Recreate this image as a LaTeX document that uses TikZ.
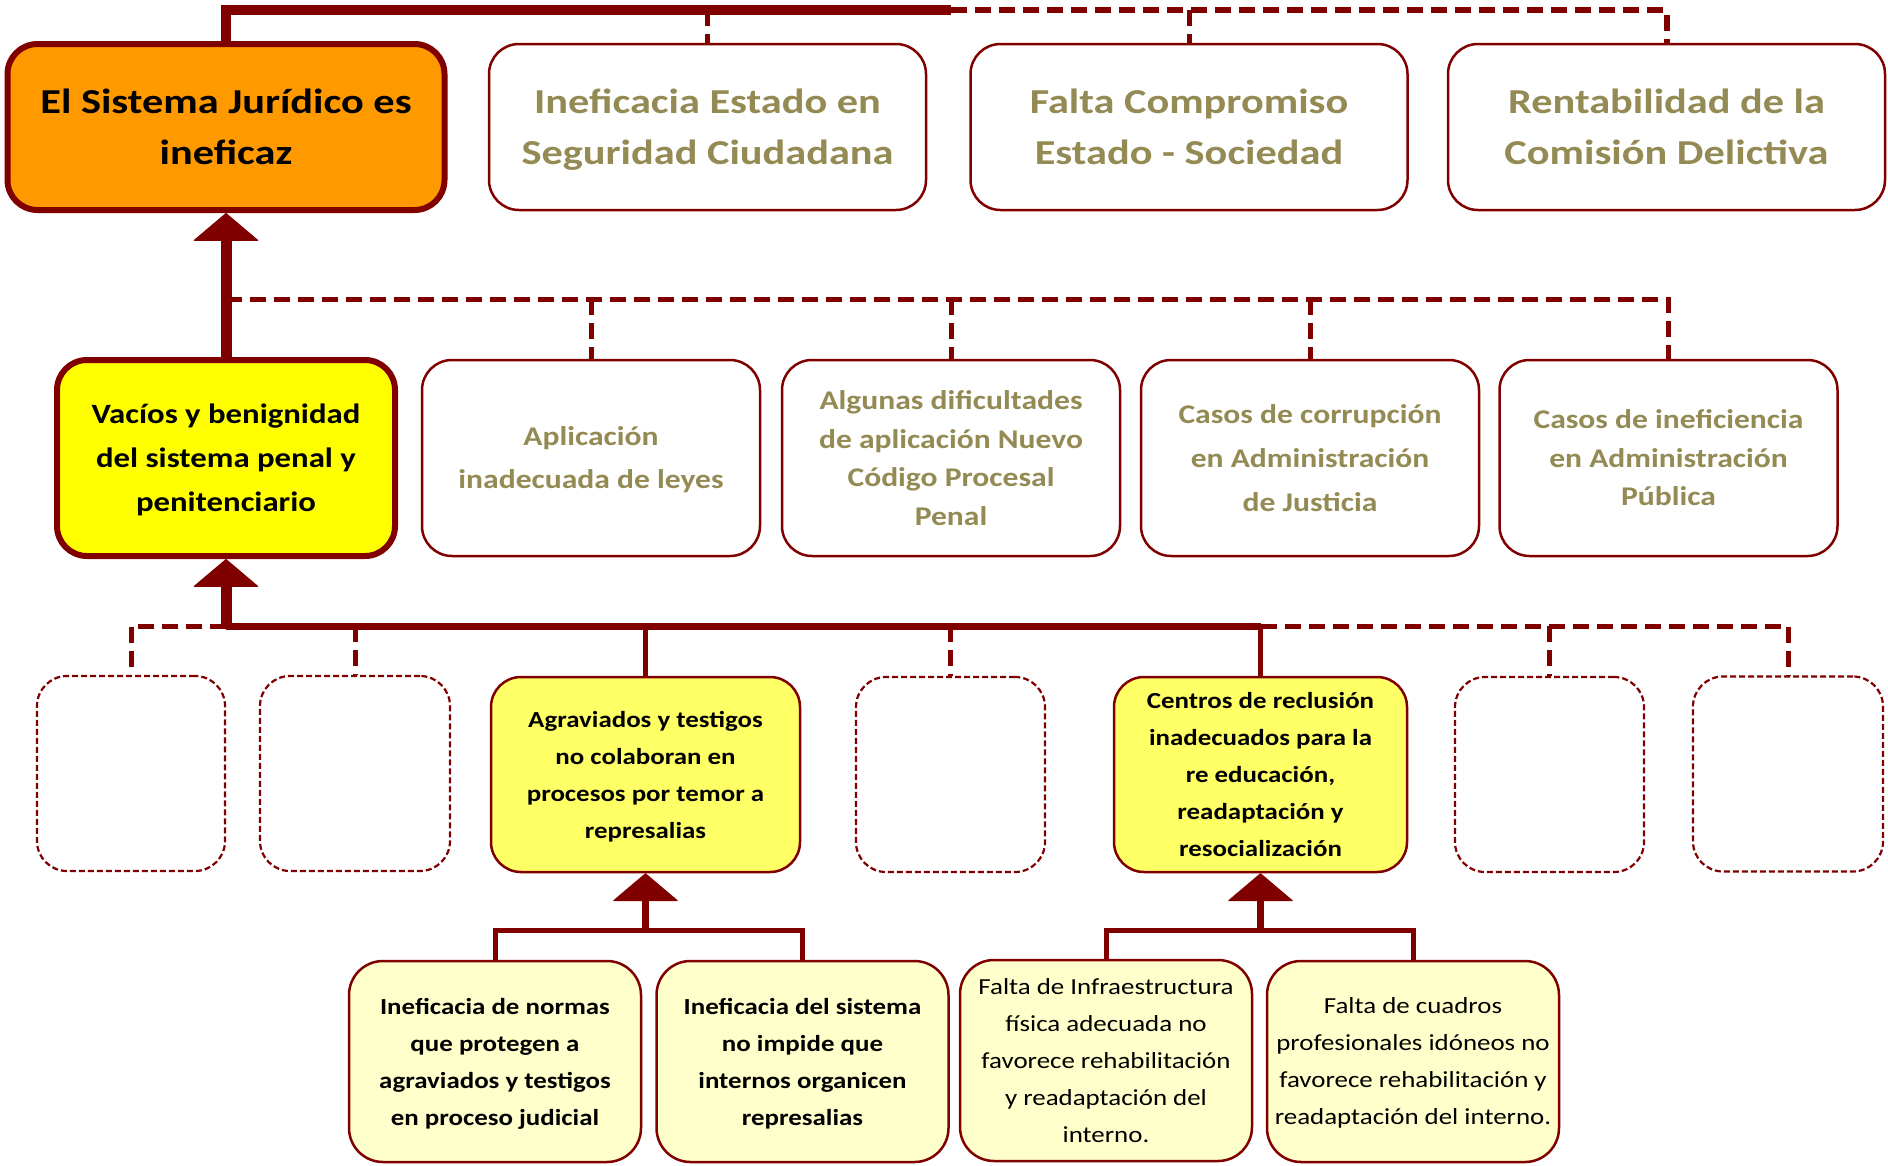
\documentclass[tikz,border=0pt]{standalone}
\usepackage{fontspec}
\setmainfont{Carlito}[FakeStretch=1.17]
\newfontfamily\topfont{Carlito}[FakeStretch=1.21]
\usetikzlibrary{arrows.meta}
\definecolor{dred}{RGB}{128,0,0}
\definecolor{olivet}{RGB}{148,138,84}
\definecolor{orangef}{RGB}{255,153,0}
\definecolor{yelf}{RGB}{255,255,0}
\definecolor{lyelf}{RGB}{255,255,102}
\definecolor{creamf}{RGB}{255,255,204}
\tikzset{
  box/.style={draw=dred, rounded corners=30pt, align=center, inner sep=0pt},
  topbox/.style={box, text depth=-8pt, line width=2.5pt, fill=white, minimum width=437pt, minimum height=166pt, text=olivet, font=\topfont\fontsize{35}{51}\selectfont\bfseries},
  midbox/.style={box, text depth=-8pt, line width=2.5pt, fill=white, minimum width=338pt, minimum height=196pt, text=olivet, font=\fontsize{27}{43}\selectfont\bfseries},
  emptybox/.style={box, line width=2.2pt, dash pattern=on 6pt off 3pt, fill=white, minimum height=195pt},
  lowbox/.style={box, text depth=-9pt, line width=2.5pt, fill=lyelf, minimum height=195pt, font=\fontsize{23}{37}\selectfont\bfseries},
  botbox/.style={box, text depth=-9pt, rounded corners=34pt, line width=2.5pt, fill=creamf, minimum width=292pt, minimum height=201pt, font=\fontsize{23}{37}\selectfont},
  shaft/.style={draw=dred, line width=11pt},
  bus/.style={draw=dred, line width=7pt},
  thinc/.style={draw=dred, line width=5pt},
  dashc/.style={draw=dred, line width=5pt, dash pattern=on 16pt off 8pt},
  uptip/.style={-{Triangle[width=66pt,length=28pt,line width=1pt,round]}},
}
\begin{document}
\begin{tikzpicture}[x=1pt,y=-1pt]
\useasboundingbox[fill=white] (0,0) rectangle (1888,1165);
% top row
\node[topbox, fill=orangef, text=black, line width=6pt] (O) at (226,127) {El Sistema Jurídico es\\ineficaz};
\node[topbox] (T2) at (707.5,127) {Ineficacia Estado en\\Seguridad Ciudadana};
\node[topbox] (T3) at (1189,127) {Falta Compromiso\\Estado - Sociedad};
\node[topbox] (T4) at (1666.5,127) {Rentabilidad de la\\Comisión Delictiva};
% second row
\node[midbox, fill=yelf, text=black, line width=6pt, font=\fontsize{28}{44}\selectfont\bfseries] (V) at (226,458) {Vacíos y benignidad\\del sistema penal y\\penitenciario};
\node[midbox] (A) at (591,458) {Aplicación\\inadecuada de leyes};
\node[midbox, font=\fontsize{27}{38.5}\selectfont\bfseries] (Al) at (951,458) {Algunas dificultades\\de aplicación Nuevo\\Código Procesal\\Penal};
\node[midbox, font=\fontsize{27}{44}\selectfont\bfseries] (Co) at (1310,458) {Casos de corrupción\\en Administración\\de Justicia};
\node[midbox, font=\fontsize{27}{38.5}\selectfont\bfseries] (In) at (1668.5,458) {Casos de ineficiencia\\en Administración\\Pública};
% third row
\node[emptybox, minimum width=188pt] (D1) at (131,773.5) {};
\node[emptybox, minimum width=190pt] (D2) at (355,773.5) {};
\node[lowbox, minimum width=309pt] (Ag) at (645.5,774.5) {Agraviados y testigos\\no colaboran en\\procesos por temor a\\represalias};
\node[emptybox, minimum width=189pt] (D3) at (950.5,774.5) {};
\node[lowbox, text depth=-3pt, minimum width=293pt] (Ce) at (1260.5,774.5) {Centros de reclusión\\inadecuados para la\\re educación,\\readaptación y\\resocialización};
\node[emptybox, minimum width=189pt] (D4) at (1549.5,774.5) {};
\node[emptybox, minimum width=190pt] (D5) at (1788,774) {};
% bottom row
\node[botbox, font=\fontsize{23}{37}\selectfont\bfseries] (B1) at (495,1061.5) {Ineficacia de normas\\que protegen a\\agraviados y testigos\\en proceso judicial};
\node[botbox, font=\fontsize{23}{37}\selectfont\bfseries] (B2) at (802.5,1061.5) {Ineficacia del sistema\\no impide que\\internos organicen\\represalias};
\node[botbox, text depth=-19pt] (B3) at (1106,1060.5) {Falta de Infraestructura\\física adecuada no\\favorece rehabilitación\\y readaptación del\\interno.};
\node[botbox, text depth=-7pt] (B4) at (1413,1061.5) {Falta de cuadros\\profesionales idóneos no\\favorece rehabilitación y\\readaptación del interno.};
% coordinates
\coordinate (ttop) at (226,10);
\coordinate (tj) at (951,10);
\coordinate (b2) at (226,299);
\coordinate (hub) at (226,626);
\coordinate (lb) at (645.5,930);
\coordinate (rb) at (1260.5,930);
% top connectors
\draw[shaft, line width=10pt] (O.north) -- (ttop) -- (tj);
\draw[dashc, line width=6pt] (tj) -- (T4.north |- tj) -- (T4.north);
\draw[dashc] (T2.north |- tj) -- (T2.north);
\draw[dashc] (T3.north |- tj) -- (T3.north);
% second connectors
\draw[shaft, uptip] (V.north) -- (O.south);
\draw[dashc] (b2) -- (In.north |- b2) -- (In.north);
\draw[dashc] (A.north |- b2) -- (A.north);
\draw[dashc] (Al.north |- b2) -- (Al.north);
\draw[dashc] (Co.north |- b2) -- (Co.north);
% third connectors
\draw[shaft, uptip] (hub) -- (V.south);
\draw[bus] (hub) -- (Ce.north |- hub);
\draw[dashc] (hub) -- (D1.north |- hub) -- (D1.north);
\draw[dashc] (Ce.north |- hub) -- (D5.north |- hub) -- (D5.north);
\draw[dashc] (D2.north |- hub) -- (D2.north);
\draw[dashc] (D3.north |- hub) -- (D3.north);
\draw[dashc] (D4.north |- hub) -- (D4.north);
\draw[thinc] (Ag.north |- hub) -- (Ag.north);
\draw[thinc] (Ce.north |- hub) -- (Ce.north);
% bottom connectors
\draw[bus, uptip] (lb) -- (Ag.south);
\draw[thinc] (B1.north) -- (B1.north |- lb) -- (B2.north |- lb) -- (B2.north);
\draw[bus, uptip] (rb) -- (Ce.south);
\draw[thinc] (B3.north) -- (B3.north |- rb) -- (B4.north |- rb) -- (B4.north);
\end{tikzpicture}
\end{document}
